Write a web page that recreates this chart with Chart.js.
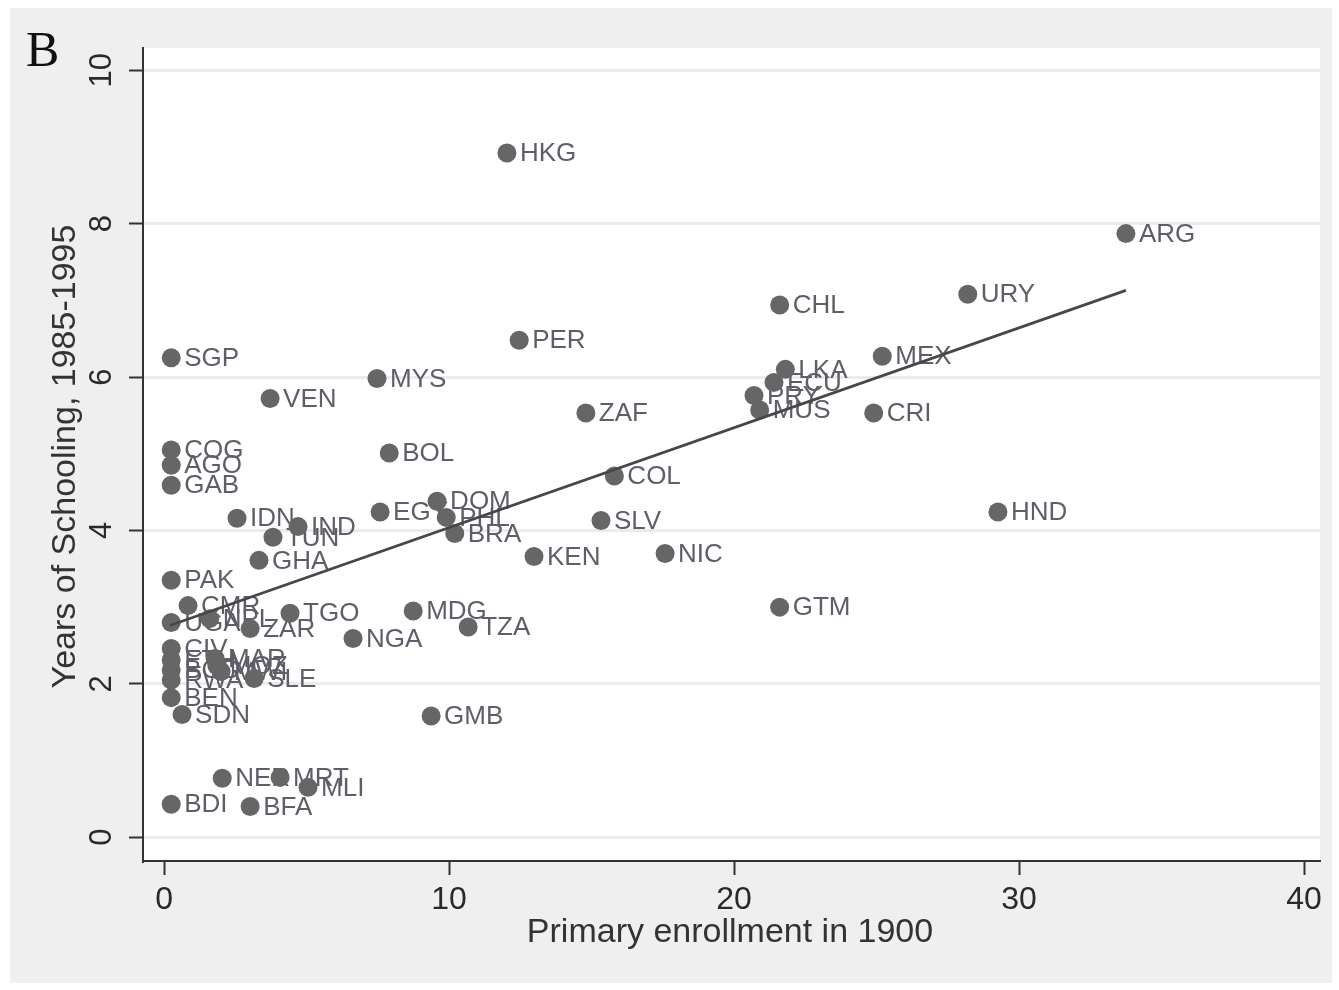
<!DOCTYPE html>
<html>
<head>
<meta charset="utf-8">
<script src="https://cdn.jsdelivr.net/npm/chart.js@4.4.1/dist/chart.umd.min.js"></script>
<style>
html,body{margin:0;padding:0;background:#fff;}
#wrap{position:absolute;left:0;top:0;width:1339px;height:990px;}
</style>
</head>
<body>
<div id="wrap"><canvas id="c" width="1339" height="990"></canvas></div>
<script>
// ---- data ----
const countries = ["HKG","ARG","URY","CHL","PER","MEX","SGP","LKA","MYS","ECU","PRY","VEN","MUS","ZAF","CRI","COG","BOL","AGO","COL","GAB","DOM","EGY","HND","PHL","IDN","SLV","IND","BRA","TUN","NIC","KEN","GHA","PAK","CMR","GTM","MDG","TGO","NPL","UGA","TZA","ZAR","NGA","CIV","MAR","ETH","BGD","MOZ","RWA","MWI","SLE","BEN","SDN","GMB","MRT","NER","MLI","BDI","BFA"];
const enrollment1900 = [12.03,33.75,28.2,21.6,12.46,25.2,0.25,21.8,7.47,21.4,20.7,3.72,20.9,14.8,24.9,0.25,7.9,0.25,15.8,0.25,9.58,7.58,29.26,9.9,2.56,15.33,4.70,10.2,3.82,17.58,12.98,3.33,0.25,0.84,21.6,8.74,4.42,1.6,0.25,10.67,3.02,6.63,0.25,1.79,0.25,0.25,1.85,0.25,2.0,3.16,0.25,0.63,9.37,4.07,2.04,5.05,0.25,3.02];
const schooling = [8.92,7.87,7.08,6.94,6.48,6.27,6.25,6.10,5.98,5.93,5.76,5.72,5.57,5.53,5.53,5.05,5.01,4.85,4.71,4.59,4.38,4.24,4.24,4.17,4.16,4.13,4.05,3.96,3.91,3.70,3.66,3.61,3.35,3.02,3.00,2.95,2.92,2.85,2.80,2.74,2.72,2.59,2.46,2.33,2.31,2.18,2.24,2.05,2.16,2.07,1.82,1.60,1.58,0.78,0.77,0.65,0.43,0.40];
const fitX = [0.2, 33.75];
const fitY = [2.76, 7.13];
const xTicks = [0,10,20,30,40];
const yTicks = [0,2,4,6,8,10];
const xTitle = "Primary enrollment in 1900";
const yTitle = "Years of Schooling, 1985-1995";
const panelLetter = "B";

const FONT = '"Liberation Sans", Arial, sans-serif';

const points = countries.map((c,i)=>({x:enrollment1900[i], y:schooling[i], code:c}));
const fitLine = fitX.map((x,i)=>({x:x, y:fitY[i]}));

const bgPlugin = {
  id:'bg',
  beforeDraw(chart){
    const ctx = chart.ctx, a = chart.chartArea;
    ctx.save();
    ctx.fillStyle = '#ffffff';
    ctx.fillRect(0,0,chart.width,chart.height);
    ctx.fillStyle = '#efefef';
    ctx.fillRect(10,8,1322,975);
    ctx.fillStyle = '#ffffff';
    ctx.fillRect(a.left,a.top,a.right-a.left,a.bottom-a.top);
    ctx.restore();
  },
  beforeDatasetsDraw(chart){
    // marker labels under the markers
    const ctx = chart.ctx;
    const meta = chart.getDatasetMeta(1);
    ctx.save();
    ctx.font = '26px ' + FONT;
    ctx.fillStyle = '#5e5e68';
    ctx.textBaseline = 'middle';
    ctx.textAlign = 'left';
    meta.data.forEach((el,i)=>{
      ctx.fillText(countries[i], el.x + 13, el.y + 1);
    });
    ctx.restore();
  },
  afterDraw(chart){
    const ctx = chart.ctx, a = chart.chartArea;
    const ys = chart.scales.y;
    ctx.save();
    ctx.fillStyle = '#2a2a2a';
    ctx.font = '31px ' + FONT;
    ctx.textAlign = 'center';
    ctx.textBaseline = 'middle';
    yTicks.forEach(v=>{
      const py = ys.getPixelForValue(v);
      ctx.save();
      ctx.translate(102, py);
      ctx.rotate(-Math.PI/2);
      ctx.fillText(String(v), 0, 0);
      ctx.restore();
    });
    ctx.fillStyle = '#333333';
    ctx.font = '34px ' + FONT;
    ctx.save();
    ctx.translate(66, (a.top+a.bottom)/2 + 2);
    ctx.rotate(-Math.PI/2);
    ctx.fillText(yTitle, 0, 0);
    ctx.restore();
    ctx.fillText(xTitle, 730, 933);
    ctx.fillStyle = '#111111';
    ctx.font = '50px "Liberation Serif", "Times New Roman", serif';
    ctx.textAlign = 'left';
    ctx.textBaseline = 'alphabetic';
    ctx.fillText(panelLetter, 26, 66);
    ctx.restore();
  }
};

new Chart(document.getElementById('c'), {
  type:'scatter',
  data:{
    datasets:[
      {type:'line', data:fitLine, borderColor:'#474747', borderWidth:2.8, pointRadius:0, fill:false, order:0, tension:0},
      {data:points, backgroundColor:'#666666', borderColor:'#666666', borderWidth:0, pointRadius:9.5, pointHoverRadius:9.5, order:1}
    ]
  },
  plugins:[bgPlugin],
  options:{
    responsive:false,
    animation:false,
    events:[],
    layout:{padding:{top:48,right:19,left:0,bottom:0}},
    plugins:{legend:{display:false}, tooltip:{enabled:false}},
    scales:{
      x:{
        type:'linear', min:-0.74, max:40.56,
        afterFit(s){ s.height = 129; },
        ticks:{stepSize:10, includeBounds:false, color:'#2a2a2a', font:{family:FONT,size:32}, padding:6, maxRotation:0},
        grid:{display:true, drawOnChartArea:false, drawTicks:true, tickLength:14, tickColor:'#333', tickWidth:2},
        border:{display:true, color:'#333', width:2}
      },
      y:{
        type:'linear', min:-0.31, max:10.29,
        afterFit(s){ s.width = 143; },
        ticks:{stepSize:2, includeBounds:false, display:false},
        grid:{display:true, drawOnChartArea:true, color:'#ebebeb', lineWidth:3, drawTicks:true, tickLength:14, tickColor:'#333', tickWidth:2},
        border:{display:true, color:'#333', width:2}
      }
    }
  }
});
</script>
</body>
</html>
